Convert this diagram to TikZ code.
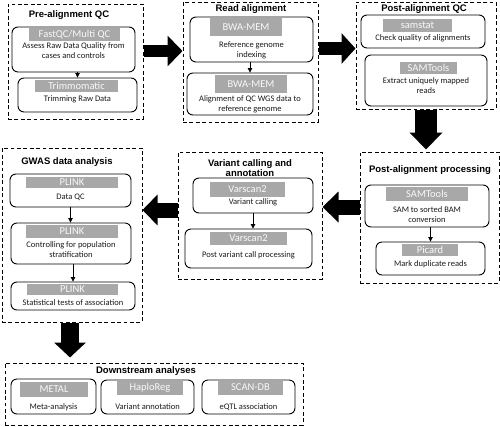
\documentclass[tikz,border=0pt]{standalone}
\usepackage{fontspec}
\setmainfont{Carlito}
\newfontfamily\titlefont{Liberation Sans}
\usetikzlibrary{arrows.meta,fit}
\definecolor{labgray}{HTML}{A8A8A8}
\definecolor{txt}{HTML}{1A1A1A}
\begin{document}
\begin{tikzpicture}[x=1pt,y=-1pt,
  outer/.style={draw, dash pattern=on 3.8pt off 2.6pt, line width=1pt, inner sep=0pt},
  ibox/.style={draw, rounded corners=6pt, line width=0.9pt, inner sep=0pt},
  lab/.style={fill=labgray, text=white!95!gray, inner sep=0pt, font=\fontsize{10.5}{12}\selectfont},
  desc/.style={align=center, inner sep=0pt, text=txt, font=\fontsize{8.5}{10}\selectfont},
  ttl/.style={align=center, inner sep=0pt, font=\titlefont\bfseries\fontsize{9.5}{10}\selectfont},
  sarrow/.style={line width=0.8pt, -{Triangle[length=4.5pt,width=4.5pt]}},
  big/.style={draw=black}
]
\useasboundingbox (0,0) rectangle (500,426);

% ---------- outer dashed boxes ----------
\node[outer, fit={(8,4) (143,119)}] (pre) {};
\node[outer, fit={(183,2) (318,122)}] (read) {};
\node[outer, fit={(356,2) (496,109)}] (postqc) {};
\node[outer, fit={(360,152) (499,283)}] (postproc) {};
\node[outer, fit={(178,152) (322,279)}] (variant) {};
\node[outer, fit={(2,148) (142,322)}] (gwas) {};
\node[outer, fit={(5,363) (303,425)}] (down) {};

% ---------- titles ----------
\node[ttl] (preT) at (69,15) {Pre-alignment QC};
\node[ttl] (readT) at (251,9) {Read alignment};
\node[ttl] (postqcT) at (424,9) {Post-alignment QC};
\node[ttl] (postprocT) at (430,170) {Post-alignment processing};
\node[ttl] (variantT) at (250,168) {Variant calling and\\annotation};
\node[ttl] (gwasT) at (67,162) {GWAS data analysis};
\node[ttl] (downT) at (146,371) {Downstream analyses};

% ---------- inner boxes ----------
\node[ibox, fit={(12,27) (135,72)}] (pre1) {};
\node[ibox, fit={(18,78) (137,112)}] (pre2) {};
\node[ibox, fit={(190,17) (313,62)}] (read1) {};
\node[ibox, fit={(187,73) (313,115)}] (read2) {};
\node[ibox, fit={(361,15) (485,48)}] (pqc1) {};
\node[ibox, fit={(365,55) (487,106)}] (pqc2) {};
\node[ibox, fit={(365,185) (489,227)}] (pp1) {};
\node[ibox, fit={(376,242) (485,275)}] (pp2) {};
\node[ibox, fit={(193,178) (313,213)}] (var1) {};
\node[ibox, fit={(185,229) (312,268)}] (var2) {};
\node[ibox, fit={(10,174) (131,207)}] (gw1) {};
\node[ibox, fit={(11,223) (131,264)}] (gw2) {};
\node[ibox, fit={(11,282) (135,310)}] (gw3) {};
\node[ibox, fit={(11,379) (96,414)}] (dn1) {};
\node[ibox, fit={(101,380) (194,414)}] (dn2) {};
\node[ibox, fit={(202,380) (295,414)}] (dn3) {};

% ---------- gray tool labels ----------
\node[lab, minimum width=91pt, minimum height=13pt] (pre1L) at (74.5,34.5) {FastQC/Multi QC};
\node[lab, minimum width=83pt, minimum height=12pt] (pre2L) at (76.5,86) {Trimmomatic};
\node[lab, minimum width=72pt, minimum height=18pt] (read1L) at (246,27) {BWA-MEM};
\node[lab, minimum width=72pt, minimum height=18pt] (read2L) at (251,84) {BWA-MEM};
\node[lab, minimum width=69pt, minimum height=13pt] (pqc1L) at (417.5,25) {samstat};
\node[lab, minimum width=57pt, minimum height=12pt] (pqc2L) at (428.5,68) {SAMTools};
\node[lab, minimum width=82pt, minimum height=14pt] (pp1L) at (427,194) {SAMTools};
\node[lab, minimum width=56pt, minimum height=12pt] (pp2L) at (430,250) {Picard};
\node[lab, minimum width=75pt, minimum height=15pt] (var1L) at (247.5,189.5) {Varscan2};
\node[lab, minimum width=77pt, minimum height=13pt] (var2L) at (248.5,238.5) {Varscan2};
\node[lab, minimum width=92pt, minimum height=11pt] (gw1L) at (72,182.5) {PLINK};
\node[lab, minimum width=92pt, minimum height=13pt] (gw2L) at (72,231.5) {PLINK};
\node[lab, minimum width=91pt, minimum height=11pt] (gw3L) at (72.5,289.5) {PLINK};
\node[lab, minimum width=68pt, minimum height=15pt] (dn1L) at (54,389.5) {METAL};
\node[lab, minimum width=66pt, minimum height=15pt] (dn2L) at (150,387.5) {HaploReg};
\node[lab, minimum width=65pt, minimum height=15pt] (dn3L) at (250.5,387.5) {SCAN-DB};

% ---------- descriptions ----------
\node[desc] (pre1D) at (73.5,50.5) {Assess Raw Data Quality from\\cases and controls};
\node[desc] (pre2D) at (77.5,99) {Trimming Raw Data};
\node[desc] (read1D) at (251.5,50) {Reference genome\\indexing};
\node[desc] (read2D) at (250,104.5) {Alignment of QC WGS data to\\reference genome};
\node[desc] (pqc1D) at (423,38) {Check quality of alignments};
\node[desc] (pqc2D) at (426,86) {Extract uniquely mapped\\reads};
\node[desc] (pp1D) at (427,214.5) {SAM to sorted BAM\\conversion};
\node[desc] (pp2D) at (430.5,264) {Mark duplicate reads};
\node[desc] (var1D) at (253,202) {Variant calling};
\node[desc] (var2D) at (248.5,255) {Post variant call processing};
\node[desc] (gw1D) at (70.5,197) {Data QC};
\node[desc] (gw2D) at (71,249.5) {Controlling for population\\stratification};
\node[desc] (gw3D) at (73,303) {Statistical tests of association};
\node[desc] (dn1D) at (53.5,407) {Meta-analysis};
\node[desc] (dn2D) at (147.5,407) {Variant annotation};
\node[desc] (dn3D) at (248.5,407) {eQTL association};

% ---------- small arrows ----------
\draw[sarrow] (pre1.south -| pre2.north) -- (pre2.north);
\draw[sarrow] (read1.south -| read2.north) -- (read2.north);
\draw[sarrow] (pp1.south -| pp2.north) -- (pp2.north);
\draw[sarrow] (var1.south) -- (var1.south |- var2.north);
\draw[sarrow] (gw1.south) -- (gw1.south |- gw2.north);
\draw[sarrow] (gw2.south -| gw3.north) -- (gw3.north);

% ---------- big arrows ----------
\coordinate (a1s) at ([yshift=10.5pt]pre.east);
\draw[big, line width=12pt, -{Triangle[length=15pt,width=30pt]}] (a1s) -- (a1s -| read.west);
\coordinate (a2s) at ([yshift=13.5pt]read.east);
\draw[big, line width=13pt, -{Triangle[length=14pt,width=30pt]}] (a2s) -- (a2s -| postqc.west);
\coordinate (a3s) at (postqc.south);
\draw[big, line width=22pt, shorten >=2pt, -{Triangle[length=17pt,width=32pt]}] (a3s) -- (a3s |- postproc.north);
\coordinate (a4s) at ([yshift=10.5pt]postproc.west);
\draw[big, line width=15pt, -{Triangle[length=16pt,width=30pt]}] (a4s) -- (a4s -| variant.east);
\coordinate (a5s) at ([yshift=5.5pt]variant.west);
\draw[big, line width=15pt, -{Triangle[length=15pt,width=30pt]}] (a5s) -- (a5s -| gwas.east);
\coordinate (a6s) at ([xshift=-2pt]gwas.south);
\draw[big, line width=18pt, shorten >=5pt, -{Triangle[length=15pt,width=31pt]}] (a6s) -- (a6s |- down.north);
\end{tikzpicture}
\end{document}
